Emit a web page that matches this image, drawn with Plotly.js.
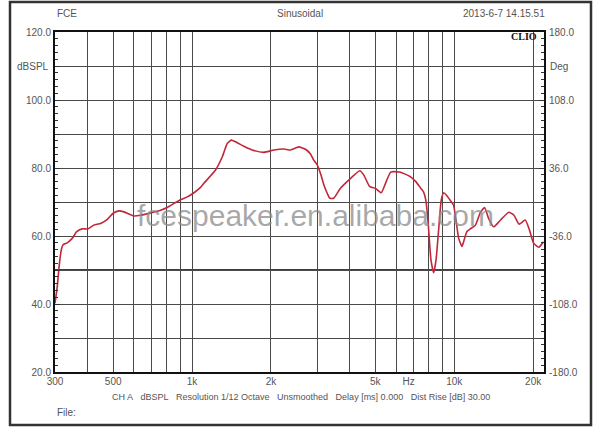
<!DOCTYPE html>
<html><head><meta charset="utf-8">
<script src="https://cdn.plot.ly/plotly-3.0.1.min.js"></script>
<style>html,body{margin:0;padding:0;background:#fff}#chart{width:600px;height:436px}</style>
</head><body><div id="chart"></div>
<script>
const freqHz = [300,306,311,317,322,334,349,363,381,400,422,448,475,500,526,550,600,636,694,758,804,899,959,1020,1077,1109,1229,1304,1362,1411,1465,1576,1696,1878,2052,2240,2375,2554,2708,2830,2913,3002,3100,3183,3280,3354,3471,3677,4016,4363,4521,4761,5005,5264,5469,5726,6161,6628,6818,7136,7462,7636,7789,7951,8053,8150,8348,8525,8738,8925,9117,9345,9633,9939,10150,10400,10700,10820,11180,11520,12050,12550,13050,13520,14140,15020,16150,16900,17680,18650,19360,20080,21000,21900];
const splDb = [40.2,45.1,51.0,55.9,57.4,58.0,59.3,61.3,62.1,62.1,63.2,63.7,64.9,66.7,67.4,67.1,65.9,66.1,66.8,67.6,68.4,70.6,71.5,72.8,74.3,75.5,79.4,83.3,87.2,88.2,87.7,86.4,85.3,84.6,85.3,85.6,85.3,86.2,85.5,84.1,82.3,80.9,78.0,75.0,72.5,71.1,71.1,74.0,76.9,79.2,77.9,74.5,74.0,72.7,75.5,78.8,78.8,77.9,77.4,76.0,74.0,73.0,70.6,64.0,57.9,53.0,49.2,53.0,62.7,70.6,72.7,72.0,70.6,69.1,64.7,59.3,56.9,57.9,61.3,62.1,63.2,66.7,68.4,65.2,62.7,64.7,67.0,66.1,63.5,64.7,61.8,57.9,56.7,58.3];
const gridFreqs = [400,500,600,700,800,900,1000,2000,3000,4000,5000,6000,7000,8000,9000,10000,20000];
const freqTickVals = [300,500,1000,2000,5000,6700,10000,20000];
const freqTickText = ['300','500','1k','2k','5k','Hz','10k','20k'];
const splTickVals = [20,30,40,50,60,70,80,90,100,110,120];
const splTickText = ['20.0','','40.0','','60.0','','80.0','','100.0','','120.0'];
const degTickVals = [-180,-108,-36,36,108,180];
const degTickText = ['-180.0','-108.0','-36.0','36.0','108.0','180.0'];

const L=55, R=56, T=32, B=64, W=600, H=436;
const pw = W-L-R, ph = H-T-B;
const px = x => (x-L)/pw;
const py = y => (H-B-y)/ph;

const txtFont = {family:'Liberation Sans, Arial, sans-serif', size:10, color:'#555'};
const xr = [Math.log10(300), Math.log10(22000)];

const traces = [
  {x:freqHz, y:splDb, type:'scatter', mode:'lines', line:{color:'#c0283a', width:1.6, shape:'spline', smoothing:0.5}, hoverinfo:'skip', xaxis:'x', yaxis:'y'},
  {x:[], y:[], type:'scatter', mode:'lines', xaxis:'x2', yaxis:'y', hoverinfo:'skip'},
  {x:[], y:[], type:'scatter', mode:'lines', xaxis:'x', yaxis:'y2', hoverinfo:'skip'}
];

const ann = (text, x, y, xanchor, extra) => Object.assign({text, xref:'paper', yref:'paper', x:px(x), y:py(y), xanchor, yanchor:'middle', showarrow:false, font:txtFont}, extra||{});

const layout = {
  width:W, height:H, margin:{l:L, r:R, t:T, b:B, pad:0},
  paper_bgcolor:'#fff', plot_bgcolor:'#fff', showlegend:false,
  xaxis:{type:'log', range:xr, tickmode:'array', tickvals:gridFreqs, showticklabels:false, ticks:'',
    showgrid:true, gridcolor:'#4a4a4a', gridwidth:1, showline:true, mirror:true, linecolor:'#111', linewidth:2, zeroline:false, fixedrange:true},
  xaxis2:{type:'log', range:xr, overlaying:'x', anchor:'y', side:'bottom', tickmode:'array', tickvals:freqTickVals, ticktext:freqTickText,
    showgrid:false, ticks:'', showline:false, zeroline:false, tickfont:txtFont, ticklabelstandoff:2, fixedrange:true},
  yaxis:{range:[20,120], tickmode:'array', tickvals:splTickVals, ticktext:splTickText, ticks:'inside', ticklen:5, tickcolor:'#333',
    minor:{tickmode:'linear', tick0:0, dtick:2, ticks:'inside', ticklen:3, tickcolor:'#333', showgrid:false},
    showgrid:true, gridcolor:'#4a4a4a', gridwidth:1, showline:true, mirror:true, linecolor:'#111', linewidth:2, zeroline:false, tickfont:txtFont, fixedrange:true},
  yaxis2:{range:[-180,180], overlaying:'y', side:'right', anchor:'x', tickmode:'array', tickvals:degTickVals, ticktext:degTickText,
    ticks:'inside', ticklen:5, tickcolor:'#333', ticklabelstandoff:4,
    minor:{tickmode:'linear', tick0:0, dtick:7.2, ticks:'inside', ticklen:3, tickcolor:'#333', showgrid:false},
    showgrid:false, showline:false, zeroline:false, tickfont:txtFont, fixedrange:true},
  shapes:[
    {type:'line', xref:'paper', yref:'y', x0:0, x1:1, y0:50, y1:50, line:{color:'#000', width:1.6}, layer:'below'},
    {type:'rect', xref:'paper', yref:'paper', x0:px(10), x1:px(591), y0:py(2), y1:py(425), line:{color:'#333', width:2.5}, fillcolor:'rgba(0,0,0,0)'}
  ],
  annotations:[
    ann('FCE', 55, 14, 'left'),
    ann('Sinusoidal', 300, 14, 'center'),
    ann('2013-6-7 14.15.51', 547, 14, 'right'),
    ann('dBSPL', 51, 66, 'right'),
    ann('Deg', 548, 66, 'left'),
    ann('<b>CLIO</b>', 524, 37, 'center', {font:{family:'Liberation Serif, DejaVu Serif, serif', size:10, color:'#111'}}),
    ann('CH A&nbsp;&nbsp;&nbsp;dBSPL&nbsp;&nbsp;&nbsp;Resolution 1/12 Octave&nbsp;&nbsp;&nbsp;Unsmoothed&nbsp;&nbsp;&nbsp;Delay [ms] 0.000&nbsp;&nbsp;&nbsp;Dist Rise [dB] 30.00', 110, 397, 'left', {font:{family:'Liberation Sans, Arial, sans-serif', size:9, color:'#555'}}),
    ann('File:', 55, 412, 'left'),
    ann('fcespeaker.en.alibaba.com', 315, 215, 'center', {font:{family:'Liberation Sans, Arial, sans-serif', size:30, color:'rgba(140,140,140,0.75)'}})
  ]
};

Plotly.newPlot('chart', traces, layout, {staticPlot:true, displayModeBar:false});
</script>
</body></html>
